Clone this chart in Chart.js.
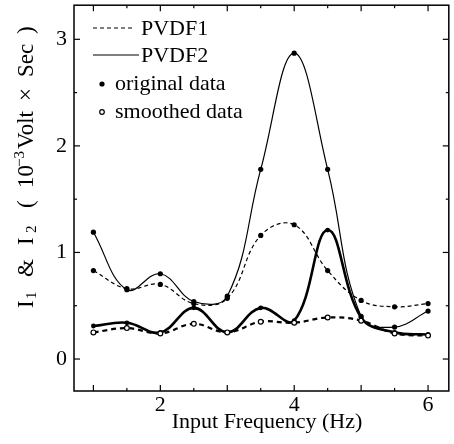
<!DOCTYPE html>
<html>
<head>
<meta charset="utf-8">
<script src="https://cdn.jsdelivr.net/npm/chart.js@4"></script>
<style>
  html, body { margin: 0; padding: 0; background: #fff; }
  #chart { display: block; }
</style>
</head>
<body>
<canvas id="chart" width="454" height="444"></canvas>
<script>
const freqs = [1, 1.5, 2, 2.5, 3, 3.5, 4, 4.5, 5, 5.5, 6];
const pvdf1Original = [0.83, 0.66, 0.70, 0.52, 0.57, 1.16, 1.26, 0.83, 0.55, 0.49, 0.52];
const pvdf2Original = [1.19, 0.65, 0.80, 0.54, 0.59, 1.78, 2.87, 1.78, 0.40, 0.30, 0.45];
const pvdf1Smoothed = [0.25, 0.29, 0.24, 0.33, 0.25, 0.35, 0.34, 0.39, 0.36, 0.24, 0.22];
const pvdf2Smoothed = [0.31, 0.34, 0.25, 0.48, 0.25, 0.48, 0.36, 1.21, 0.39, 0.25, 0.23];
const xTicks = [2, 4, 6];
const yTicks = [0, 1, 2, 3];

const serif = '"Liberation Serif", "Times New Roman", serif';

function pts(values) {
    return freqs.map((f, i) => ({ x: f, y: values[i] }));
}

function line(ctx, x1, y1, x2, y2) {
    ctx.beginPath();
    ctx.moveTo(x1, y1);
    ctx.lineTo(x2, y2);
    ctx.stroke();
}

// frame, inward ticks, legend and the titles
const decorations = {
    id: 'decorations',
    afterDraw(chart) {
        const { ctx, chartArea: a, scales: { x, y } } = chart;
        ctx.save();
        ctx.strokeStyle = '#000';
        ctx.fillStyle = '#000';

        ctx.lineWidth = 1.5;
        ctx.strokeRect(a.left, a.top, a.right - a.left, a.bottom - a.top);

        ctx.lineWidth = 1.2;
        for (let v = 1; v <= 6; v += 0.5) {
            const px = x.getPixelForValue(v);
            const len = v % 1 === 0 ? 6 : 3;
            line(ctx, px, a.bottom, px, a.bottom - len);
            line(ctx, px, a.top, px, a.top + len);
        }
        for (let v = 0; v <= 3; v += 0.5) {
            const py = y.getPixelForValue(v);
            const len = v % 1 === 0 ? 6 : 3;
            line(ctx, a.left, py, a.left + len, py);
            line(ctx, a.right, py, a.right - len, py);
        }

        // legend
        ctx.font = '22px ' + serif;
        ctx.textBaseline = 'middle';
        ctx.textAlign = 'left';
        ctx.lineWidth = 1.2;
        ctx.setLineDash([4, 3]);
        line(ctx, 93, 28, 133, 28);
        ctx.setLineDash([]);
        ctx.fillText('PVDF1', 141, 29);
        line(ctx, 93, 55, 139, 55);
        ctx.fillText('PVDF2', 141, 56);
        ctx.beginPath();
        ctx.arc(102, 84, 2.6, 0, Math.PI * 2);
        ctx.fill();
        ctx.fillText('original data', 115, 84);
        ctx.beginPath();
        ctx.arc(102, 112, 2.3, 0, Math.PI * 2);
        ctx.stroke();
        ctx.fillText('smoothed data', 115, 112);

        // x title
        ctx.textAlign = 'center';
        ctx.font = '22px ' + serif;
        ctx.fillText('Input Frequency (Hz)', 267, 422);

        // y title, rotated; offsets measured along the axis from the bottom end
        const parts = [
            { t: 'I', at: 2, s: 23, dy: 0 },
            { t: '1', at: 11, s: 15, dy: 3 },
            { t: '&', at: 33, s: 23, dy: 0 },
            { t: 'I', at: 65, s: 23, dy: 0 },
            { t: '2', at: 77, s: 15, dy: 3 },
            { t: '(', at: 102, s: 23, dy: 0 },
            { t: '10', at: 122, s: 23, dy: 0 },
            { t: '\u22123', at: 143, s: 15, dy: -9 },
            { t: 'Volt', at: 161, s: 23, dy: 0 },
            { t: '\u00d7', at: 209, s: 23, dy: 0 },
            { t: 'Sec', at: 233, s: 23, dy: 0 },
            { t: ')', at: 276, s: 23, dy: 0 }
        ];
        ctx.translate(33, 310);
        ctx.rotate(-Math.PI / 2);
        ctx.textAlign = 'left';
        ctx.textBaseline = 'alphabetic';
        parts.forEach(p => {
            ctx.font = p.s + 'px ' + serif;
            ctx.fillText(p.t, p.at, p.dy);
        });
        ctx.restore();
    }
};

document.addEventListener("DOMContentLoaded", () => {
    const canvas = document.getElementById('chart');

    new Chart(canvas, {
        type: 'line',
        data: {
            datasets: [
                {
                    label: 'PVDF1 original',
                    data: pts(pvdf1Original),
                    borderColor: '#000',
                    borderWidth: 1.2,
                    borderDash: [4, 3],
                    pointRadius: 2.6,
                    pointBackgroundColor: '#000',
                    pointBorderWidth: 0,
                    tension: 0.4
                },
                {
                    label: 'PVDF2 original',
                    data: pts(pvdf2Original),
                    borderColor: '#000',
                    borderWidth: 1.2,
                    pointRadius: 2.6,
                    pointBackgroundColor: '#000',
                    pointBorderWidth: 0,
                    tension: 0.4
                },
                {
                    label: 'PVDF1 smoothed',
                    data: pts(pvdf1Smoothed),
                    borderColor: '#000',
                    borderWidth: 2.2,
                    borderDash: [5, 4],
                    pointRadius: 2.4,
                    pointBackgroundColor: '#fff',
                    pointBorderColor: '#000',
                    pointBorderWidth: 1.2,
                    tension: 0.4
                },
                {
                    label: 'PVDF2 smoothed',
                    data: pts(pvdf2Smoothed),
                    borderColor: '#000',
                    borderWidth: 2.6,
                    pointRadius: 2.4,
                    pointBackgroundColor: '#000',
                    pointBorderWidth: 0,
                    tension: 0.4
                }
            ]
        },
        options: {
            responsive: false,
            animation: false,
            layout: { padding: { top: 5, right: 1, left: 0, bottom: 0 } },
            plugins: {
                legend: { display: false },
                tooltip: { enabled: false }
            },
            scales: {
                x: {
                    type: 'linear',
                    min: 0.71,
                    max: 6.31,
                    afterFit: s => {
                        s.height = 53;
                        s.paddingLeft = 0;
                        s.paddingRight = 0;
                    },
                    afterBuildTicks: s => { s.ticks = xTicks.map(v => ({ value: v })); },
                    grid: { display: false, drawTicks: false },
                    border: { display: false },
                    ticks: {
                        color: '#000',
                        padding: 1,
                        font: { family: serif, size: 22 }
                    }
                },
                y: {
                    min: -0.3,
                    max: 3.32,
                    afterFit: s => {
                        s.width = 74;
                        s.paddingTop = 0;
                        s.paddingBottom = 0;
                    },
                    afterBuildTicks: s => { s.ticks = yTicks.map(v => ({ value: v })); },
                    grid: { display: false, drawTicks: false },
                    border: { display: false },
                    ticks: {
                        color: '#000',
                        padding: 7,
                        font: { family: serif, size: 22 }
                    }
                }
            }
        },
        plugins: [decorations]
    });
});
</script>
</body>
</html>
